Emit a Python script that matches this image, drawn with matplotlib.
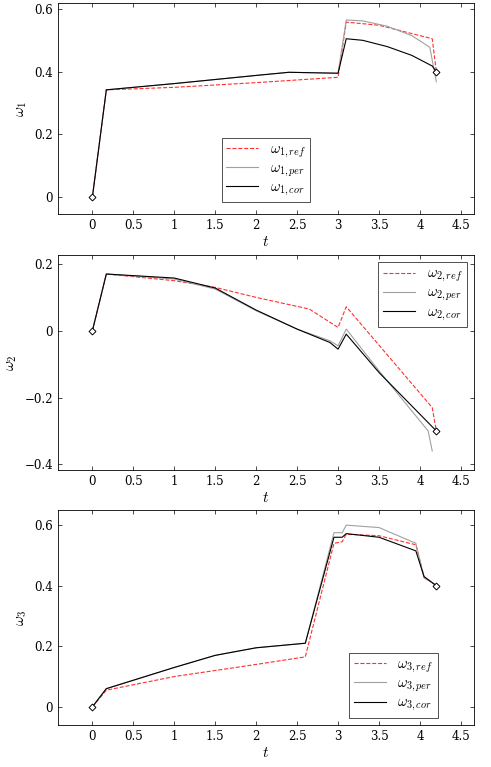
import numpy as np
import matplotlib
matplotlib.use("Agg")
import matplotlib.pyplot as plt

plt.rcParams["mathtext.fontset"] = "cm"
plt.rcParams["font.family"] = "DejaVu Serif"
plt.rcParams["font.size"] = 8

RED = "#ff3030"; GRAY = "#a0a0a0"; INK = "black"

# ---- data ----
t1_ref = [0, 0.17, 1.0, 2.0, 3.0, 3.1, 3.5, 4.15, 4.2]
w1_ref = [0, 0.342, 0.350, 0.365, 0.382, 0.558, 0.548, 0.505, 0.400]
t1_per = [0, 0.17, 1.0, 2.0, 2.4, 3.0, 3.1, 3.3, 3.6, 3.9, 4.12, 4.2]
w1_per = [0, 0.342, 0.362, 0.388, 0.398, 0.395, 0.565, 0.562, 0.545, 0.515, 0.478, 0.368]
t1_cor = [0, 0.17, 1.0, 2.0, 2.4, 3.0, 3.1, 3.3, 3.6, 3.9, 4.15, 4.2]
w1_cor = [0, 0.342, 0.362, 0.388, 0.398, 0.395, 0.505, 0.500, 0.480, 0.452, 0.418, 0.400]

t2_ref = [0, 0.17, 1.0, 1.5, 2.0, 2.65, 3.0, 3.1, 4.15, 4.2]
w2_ref = [0, 0.170, 0.150, 0.130, 0.100, 0.065, 0.010, 0.072, -0.230, -0.300]
t2_per = [0, 0.17, 1.0, 1.5, 2.0, 2.5, 2.9, 3.0, 3.1, 3.5, 4.1, 4.15]
w2_per = [0, 0.170, 0.155, 0.125, 0.060, 0.005, -0.030, -0.045, 0.005, -0.120, -0.300, -0.360]
t2_cor = [0, 0.17, 1.0, 1.5, 2.0, 2.5, 2.9, 3.0, 3.1, 3.5, 4.1, 4.2]
w2_cor = [0, 0.170, 0.158, 0.128, 0.062, 0.005, -0.035, -0.055, -0.010, -0.125, -0.275, -0.300]

t3_ref = [0, 0.17, 1.0, 2.0, 2.6, 2.95, 3.05, 3.1, 3.5, 3.95, 4.05, 4.2]
w3_ref = [0, 0.055, 0.100, 0.140, 0.165, 0.540, 0.545, 0.570, 0.565, 0.535, 0.430, 0.400]
t3_per = [0, 0.17, 1.0, 1.5, 2.0, 2.6, 2.95, 3.05, 3.1, 3.5, 3.95, 4.05, 4.15, 4.2]
w3_per = [0, 0.060, 0.130, 0.170, 0.195, 0.210, 0.575, 0.575, 0.600, 0.592, 0.540, 0.425, 0.410, 0.400]
t3_cor = [0, 0.17, 1.0, 1.5, 2.0, 2.6, 2.95, 3.05, 3.1, 3.5, 3.95, 4.05, 4.2]
w3_cor = [0, 0.060, 0.130, 0.170, 0.195, 0.210, 0.560, 0.560, 0.572, 0.560, 0.515, 0.430, 0.400]

xticks = [0, 0.5, 1, 1.5, 2, 2.5, 3, 3.5, 4, 4.5]
xtlabels = ["0", "0.5", "1", "1.5", "2", "2.5", "3", "3.5", "4", "4.5"]

fig = plt.figure(figsize=(4.91, 7.67), dpi=100)
W, H = 491, 767
boxes = [(3, 214), (255, 470), (510, 725)]
panels = [
    (1, t1_ref, w1_ref, t1_per, w1_per, t1_cor, w1_cor, (-0.054, 0.619), [0, 0.2, 0.4, 0.6], ["0", "0.2", "0.4", "0.6"],
     dict(loc="lower center", bbox_to_anchor=(0.5, 0.02))),
    (2, t2_ref, w2_ref, t2_per, w2_per, t2_cor, w2_cor, (-0.417, 0.227), [-0.4, -0.2, 0, 0.2], ["\u22120.4", "\u22120.2", "0", "0.2"],
     dict(loc="upper right")),
    (3, t3_ref, w3_ref, t3_per, w3_per, t3_cor, w3_cor, (-0.06, 0.65), [0, 0.2, 0.4, 0.6], ["0", "0.2", "0.4", "0.6"],
     dict(loc="lower right", bbox_to_anchor=(0.93, 0.0))),
]
for (top, bot), (k, tr, wr, tp, wp, tc, wc, yl, yt, ytl, lg) in zip(boxes, panels):
    ax = fig.add_axes([58 / W, 1 - bot / H, (474 - 58) / W, (bot - top) / H])
    ax.plot(tr, wr, "--", color=RED, lw=0.8, label=rf"$\omega_{{{k},ref}}$")
    ax.plot(tp, wp, "-", color=GRAY, lw=0.8, label=rf"$\omega_{{{k},per}}$")
    ax.plot(tc, wc, "-", color=INK, lw=0.8, label=rf"$\omega_{{{k},cor}}$")
    ax.plot([tr[0], tr[-1]], [wr[0], wr[-1]], "D", mfc="white", mec=INK, ms=3.5, mew=0.7, zorder=5)
    ax.set_xlim(-0.42, 4.66)
    ax.set_ylim(*yl)
    ax.set_xticks(xticks, xtlabels)
    ax.set_yticks(yt, ytl)
    ax.tick_params(direction="in", top=True, right=True, length=3, width=0.5, labelsize=8.5)
    for s in ax.spines.values():
        s.set_linewidth(0.6)
    ax.set_xlabel(r"$t$", fontsize=11, labelpad=2)
    ax.set_ylabel(rf"$\omega_{k}$", fontsize=11, labelpad=4)
    leg = ax.legend(fancybox=False, edgecolor="black", fontsize=10.5, handlelength=2.2,
                    borderpad=0.3, labelspacing=0.1, **lg)
    leg.get_frame().set_linewidth(0.6)

fig.savefig("out.png", dpi=100, facecolor="white")
